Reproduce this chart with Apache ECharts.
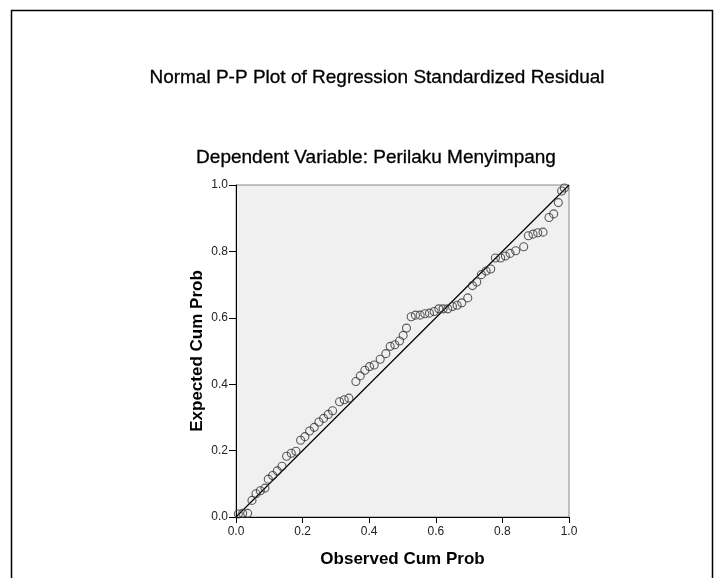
<!DOCTYPE html>
<html>
<head>
<meta charset="utf-8">
<script src="https://cdn.jsdelivr.net/npm/echarts@6/dist/echarts.min.js"></script>
<style>
html,body{margin:0;padding:0;background:#fff;}
#c{width:720px;height:578px;}
</style>
</head>
<body>
<div id="c"></div>
<script>
const titleText = "Normal P-P Plot of Regression Standardized Residual";
const subtitleText = "Dependent Variable: Perilaku Menyimpang";
const xName = "Observed Cum Prob";
const yName = "Expected Cum Prob";
const observed = [0.007,0.02,0.035,0.048,0.06,0.073,0.087,0.097,0.11,0.124,0.138,0.152,0.166,0.18,0.194,0.207,0.221,0.235,0.249,0.263,0.277,0.29,0.311,0.325,0.339,0.36,0.373,0.387,0.401,0.415,0.433,0.45,0.463,0.477,0.491,0.502,0.512,0.526,0.539,0.553,0.567,0.581,0.595,0.609,0.622,0.636,0.65,0.664,0.678,0.696,0.71,0.723,0.737,0.751,0.765,0.779,0.795,0.809,0.823,0.84,0.864,0.878,0.892,0.906,0.922,0.94,0.954,0.968,0.978,0.986];
const expected = [0.009,0.011,0.011,0.05,0.07,0.079,0.087,0.114,0.125,0.139,0.153,0.183,0.192,0.198,0.231,0.242,0.259,0.27,0.286,0.297,0.309,0.32,0.347,0.353,0.358,0.408,0.425,0.442,0.453,0.458,0.475,0.492,0.514,0.519,0.53,0.547,0.569,0.603,0.608,0.608,0.612,0.614,0.619,0.627,0.627,0.627,0.634,0.638,0.645,0.66,0.697,0.708,0.73,0.741,0.747,0.78,0.78,0.786,0.794,0.802,0.814,0.847,0.852,0.856,0.858,0.902,0.913,0.947,0.982,0.991];
const refLine = [[0,0],[1,1]];

const points = observed.map((x,i)=>[x,expected[i]]);
const chart = echarts.init(document.getElementById('c'), null, {renderer:'canvas'});
const font = 'Arial, "Liberation Sans", sans-serif';
chart.setOption({
  animation:false,
  backgroundColor:'#ffffff',
  graphic:[
    {type:'rect', shape:{x:11.5,y:10.5,width:701,height:600}, style:{fill:'none',stroke:'#000',lineWidth:1.5}, silent:true}
  ],
  title:[
    {text:titleText, left:372, top:63, textAlign:'center', textStyle:{fontSize:19, fontWeight:'normal', color:'#000', fontFamily:font, textBorderColor:'#000', textBorderWidth:0.3}},
    {text:subtitleText, left:371, top:143, textAlign:'center', textStyle:{fontSize:19, fontWeight:'normal', color:'#000', fontFamily:font, textBorderColor:'#000', textBorderWidth:0.3}}
  ],
  grid:{left:236, right:151, top:185, bottom:61, backgroundColor:'#f0f0f0', show:true, borderColor:'#888', borderWidth:1},
  xAxis:{type:'value', min:0, max:1, interval:0.2, name:xName, nameLocation:'middle', nameGap:34,
    nameTextStyle:{fontSize:17, fontWeight:'bold', color:'#000', fontFamily:font},
    axisLine:{show:true, onZero:false, lineStyle:{color:'#000', width:1}},
    axisTick:{show:true, length:6, lineStyle:{color:'#000'}},
    axisLabel:{fontSize:12, color:'#222', fontFamily:font, margin:9, formatter:v=>v.toFixed(1)},
    splitLine:{show:false}},
  yAxis:{type:'value', min:0, max:1, interval:0.2, name:yName, nameLocation:'middle', nameGap:30,
    nameTextStyle:{fontSize:17, fontWeight:'bold', color:'#000', fontFamily:font},
    axisLine:{show:true, onZero:false, lineStyle:{color:'#000', width:1}},
    axisTick:{show:true, length:7, lineStyle:{color:'#000'}},
    axisLabel:{fontSize:12, color:'#222', fontFamily:font, margin:8, formatter:v=>v.toFixed(1)},
    splitLine:{show:false}},
  series:[
    {type:'line', data:refLine, symbol:'none', lineStyle:{color:'#000', width:1.2}, silent:true, z:3},
    {type:'scatter', data:points, symbol:'circle', symbolSize:8,
      itemStyle:{color:'rgba(0,0,0,0)', borderColor:'#333', borderWidth:1.1}, z:4}
  ]
});
</script>
</body>
</html>
